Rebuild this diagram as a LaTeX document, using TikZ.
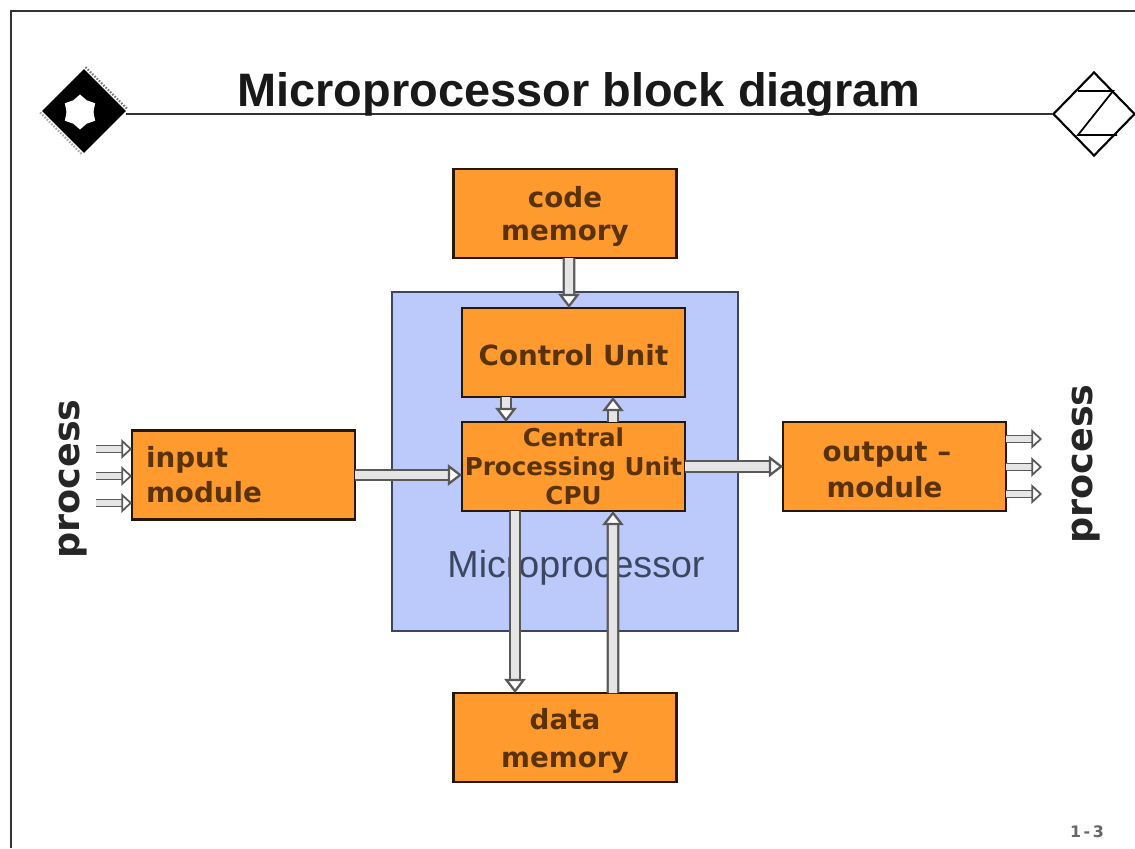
\documentclass[tikz,border=0pt]{standalone}
\usepackage{fontspec}
\setmainfont{DejaVu Sans}
\newfontfamily\titlefont{Liberation Sans}
\usepackage{xcolor}
\usetikzlibrary{arrows.meta, positioning, shapes.geometric}
\definecolor{boxorange}{HTML}{FF9A2E}
\definecolor{boxtext}{HTML}{5A3208}
\definecolor{chipblue}{HTML}{BCC9FB}
\definecolor{chipedge}{HTML}{3C4660}
\newcommand{\toprule}[1]{\rule{0pt}{#1}}

\begin{document}
\begin{tikzpicture}[
  node distance=1cm and 2cm,
  box/.style={draw=black!85!boxorange, line width=1.2pt, fill=boxorange, text=boxtext, font=\bfseries\fontsize{15.8}{19}\selectfont, align=center, minimum width=4.46cm, minimum height=1.78cm, inner sep=0pt, outer sep=0pt},
  arrow/.style={draw=black!65, line width=1.3pt, double=white!90!black, double distance=4.6pt, -{Triangle[open, fill=white, length=8pt, width=12pt]}},
  smallarrow/.style={arrow, line width=1pt, double distance=3pt, -{Triangle[open, fill=white, length=6pt, width=11pt]}},
  side/.style={font=\bfseries\fontsize{20.8}{24}\selectfont, text=black!85, rotate=90}
]
\useasboundingbox (0,0) rectangle (22.7,16.96);

% Frame and heading
\draw[line width=1.1pt, black!80] (.22,0) -- (.22,16.74) -- (22.7,16.74);
\node[diamond, fill=black, minimum width=1.68cm, minimum height=1.68cm, inner sep=0pt] (chip) at (1.68,14.74) {};
\node[star, star points=6, star point ratio=1.3, fill=white, minimum size=.7cm, inner sep=0pt] (chipmark) at (1.6,14.72) {};
\node[diamond, draw=black, line width=1.2pt, fill=white, minimum width=1.64cm, minimum height=1.68cm, inner sep=0pt] (logo) at (21.88,14.68) {};
\draw[line width=1pt] (21.56,15.14) -- (22.26,15.14) -- (21.56,14.26) -- (22.34,14.26);
\draw[line width=1.2pt, black!55, dash pattern=on .9pt off .9pt] ([shift={(.03,.03)}]chip.north) -- ([shift={(.03,.03)}]chip.east);
\draw[line width=1.2pt, black!35, dash pattern=on .9pt off .9pt] ([shift={(-.03,-.03)}]chip.west) -- ([shift={(-.03,-.03)}]chip.south);
\draw[line width=1.1pt, black!80] (chip.east |- logo.west) -- (logo.west);
\node[font=\titlefont\bfseries\fontsize{26.7}{30}\selectfont, text=black!90] (heading) at (11.58,15.08) {Microprocessor block diagram};
\node[font=\bfseries\fontsize{9}{11}\selectfont, text=black!60] (page) at (21.74,.32) {1\,-\,3};

% Nodes
\node[draw=chipedge, line width=1.1pt, fill=chipblue, minimum width=6.92cm, minimum height=6.78cm, inner sep=0pt, outer sep=0pt] (micro) at (11.3,7.73) {};
\node[font=\titlefont\fontsize{21.4}{25}\selectfont, text=chipedge] (microlabel) at (11.52,5.6) {Microprocessor};
\node[box, font=\bfseries\fontsize{14}{16.6}\selectfont] (cpu) at (11.47,7.63) {Central\\Processing Unit\\CPU};
\node[box, above=.5cm of cpu] (control) {\toprule{15.5pt}Control Unit};
\node[box, above=1cm of control, xshift=-.17cm] (code) {\toprule{15.5pt}code\\memory};
\node[box, below=3.64cm of cpu, xshift=-.17cm] (data) {\toprule{16pt}data\\[2.5pt]memory};
\node[box, left=2.14cm of cpu, yshift=-.17cm, align=left, text width=3.9cm] (input) {input\\[1pt]module};
\node[box, right=1.96cm of cpu] (output) {\toprule{15pt}output --\hspace*{.3cm}\\[2pt]module\hspace*{.4cm}};
\node[side] (procin) at (1.46,7.38) {process};
\node[side] (procout) at (21.72,7.68) {process};

\coordinate (in1) at (1.92,7.98);
\coordinate (in2) at (1.92,7.44);
\coordinate (in3) at (1.92,6.9);
\coordinate (out1) at (20.84,8.18);
\coordinate (out2) at (20.84,7.62);
\coordinate (out3) at (20.84,7.08);

% Pointers
\draw[arrow] ([xshift=.08cm]code.south) -- ([xshift=-.09cm]control.north);
\draw[arrow] ([xshift=-1.35cm]control.south) -- ([xshift=-1.35cm]cpu.north);
\draw[arrow] ([xshift=.79cm]cpu.north) -- ([xshift=.79cm]control.south);
\draw[arrow] ([xshift=-1.17cm]cpu.south) -- ([xshift=-1cm]data.north);
\draw[arrow] ([xshift=.96cm]data.north) -- ([xshift=.79cm]cpu.south);
\draw[arrow] (input.east) -- (cpu.west |- input.east);
\draw[arrow] (cpu.east) -- (output.west);
\draw[smallarrow] (in1) -- (in1 -| input.west);
\draw[smallarrow] (in2) -- (in2 -| input.west);
\draw[smallarrow] (in3) -- (in3 -| input.west);
\draw[smallarrow] (out1 -| output.east) -- (out1);
\draw[smallarrow] (out2 -| output.east) -- (out2);
\draw[smallarrow] (out3 -| output.east) -- (out3);
\end{tikzpicture}
\end{document}
